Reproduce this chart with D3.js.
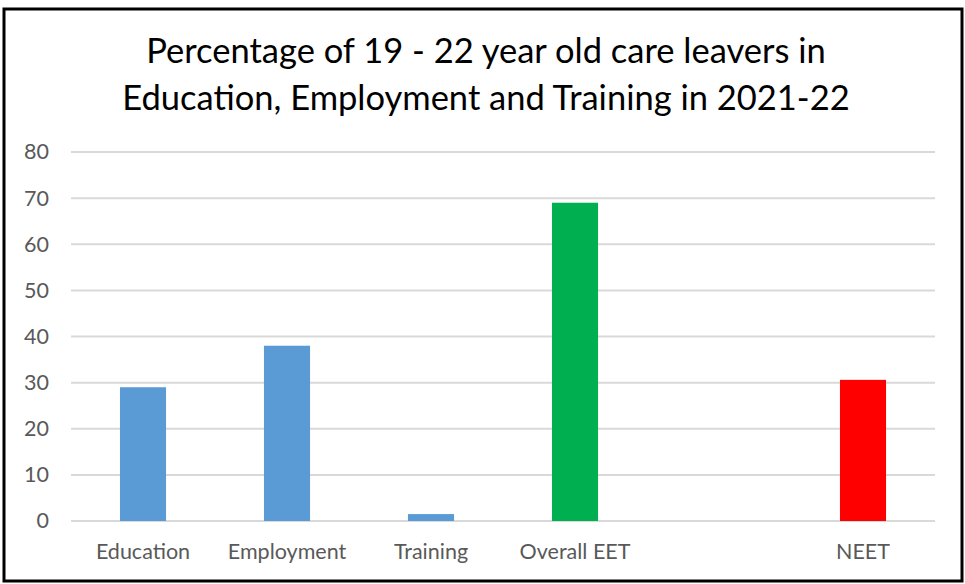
<!DOCTYPE html>
<html>
<head>
<meta charset="utf-8">
<script src="https://cdn.jsdelivr.net/npm/d3@7"></script>
<style>
  html, body { margin: 0; padding: 0; background: #fff; }
  svg { display: block; }
  text { font-family: Lato, "Open Sans", sans-serif; }
</style>
</head>
<body>
<svg id="chart" width="965" height="584"></svg>
<script>
// Categories along the x axis (one empty slot between Overall EET and NEET)
const categories = ["Education", "Employment", "Training", "Overall EET", "", "NEET"];
// Percentage for each category (null = empty slot)
const values = [29, 38, 1.5, 69, null, 30.6];
// Bar colours per category
const colors = ["#5b9bd5", "#5b9bd5", "#5b9bd5", "#00b050", null, "#ff0000"];
// Y-axis ticks
const yTicks = [0, 10, 20, 30, 40, 50, 60, 70, 80];
const titleLines = [
  "Percentage of 19 - 22 year old care leavers in",
  "Education, Employment and Training in 2021-22"
];

const svg = d3.select("#chart");
const plot = { left: 71, right: 935, top: 152, bottom: 521 };

// Outer frame
svg.append("rect")
  .attr("x", 4).attr("y", 9)
  .attr("width", 958).attr("height", 572)
  .attr("fill", "#fff")
  .attr("stroke", "#000").attr("stroke-width", 3);

// Title
svg.append("g").selectAll("text")
  .data(titleLines)
  .join("text")
  .attr("x", 486)
  .attr("y", (d, i) => 63 + i * 47)
  .attr("text-anchor", "middle")
  .attr("font-size", 34.5)
  .attr("fill", "#000")
  .text(d => d);

const x = d3.scaleBand()
  .domain(d3.range(categories.length))
  .range([plot.left, plot.right])
  .paddingInner(0.68)
  .paddingOuter(0.34);

const y = d3.scaleLinear()
  .domain([0, 80])
  .range([plot.bottom, plot.top]);

// Gridlines
svg.append("g")
  .selectAll("line")
  .data(yTicks)
  .join("line")
  .attr("x1", plot.left).attr("x2", plot.right)
  .attr("y1", d => y(d)).attr("y2", d => y(d))
  .attr("stroke", "#d9d9d9")
  .attr("stroke-width", 2);

// Y axis labels
const yAxis = d3.axisLeft(y).tickValues(yTicks).tickSize(0).tickPadding(0);
const yg = svg.append("g")
  .attr("transform", "translate(49,0)")
  .call(yAxis);
yg.select(".domain").remove();
yg.selectAll("text")
  .attr("font-family", "Lato, 'Open Sans', sans-serif")
  .attr("font-size", 21.5)
  .attr("fill", "#595959");

// Bars
svg.append("g")
  .selectAll("rect")
  .data(values.map((v, i) => ({ v, i })).filter(d => d.v !== null))
  .join("rect")
  .attr("x", d => x(d.i))
  .attr("width", x.bandwidth())
  .attr("y", d => y(d.v))
  .attr("height", d => y(0) - y(d.v))
  .attr("fill", d => colors[d.i]);

// X axis labels
const xAxis = d3.axisBottom(x).tickFormat(i => categories[i]).tickSize(0).tickPadding(0);
const xg = svg.append("g")
  .attr("transform", "translate(0,544)")
  .call(xAxis);
xg.select(".domain").remove();
xg.selectAll("text")
  .attr("font-family", "Lato, 'Open Sans', sans-serif")
  .attr("font-size", 21.5)
  .attr("fill", "#595959");
</script>
</body>
</html>
